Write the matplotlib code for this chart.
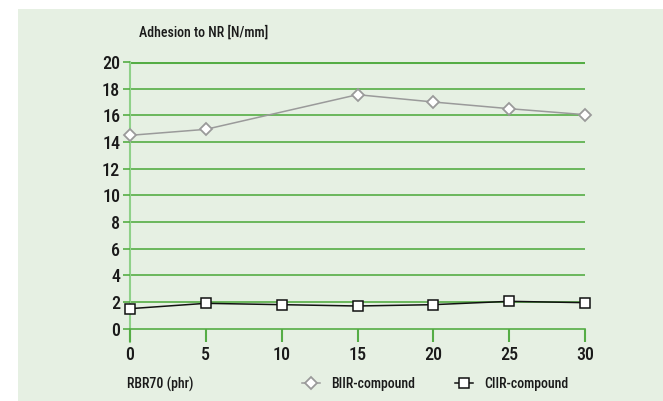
#!/usr/bin/env python3
"""Adhesion to NR vs RBR70 loading for BIIR and CIIR compounds."""

import matplotlib
matplotlib.use("Agg")
import matplotlib.pyplot as plt
from matplotlib.patches import Rectangle

# data
biir_x = [0, 5, 15, 20, 25, 30]
biir_y = [14.5, 14.95, 17.55, 17.0, 16.5, 16.05]
ciir_x = [0, 5, 10, 15, 20, 25, 30]
ciir_y = [1.5, 1.9, 1.8, 1.7, 1.8, 2.05, 1.95]
x_ticks = [0, 5, 10, 15, 20, 25, 30]
y_ticks = [0, 2, 4, 6, 8, 10, 12, 14, 16, 18, 20]

BG = "#e6f0e3"
GREEN = "#55ad45"
LIGHT_GREEN = "#8fd189"
FONT = ["Roboto Condensed", "DejaVu Sans"]
TXT = "#1a1a1a"

plt.rcParams["font.family"] = FONT

W, H = 663, 401
fig = plt.figure(figsize=(W / 100, H / 100), dpi=100)
fig.patch.set_facecolor("white")
# green panel, white strip on top and left
fig.patches.append(Rectangle((18 / W, 0), 1, (H - 9) / H, transform=fig.transFigure,
                             facecolor=BG, edgecolor="none", zorder=-5))

# axes: x 0..30 -> px 130..585 ; y 20 at px 62, 0 at px 329, -1 at px 342
y_px_per = (329 - 62) / 20
ax = fig.add_axes([130 / W, (H - 342) / H, 455 / W, (342 - 62) / H])
ax.set_facecolor("none")
ax.set_xlim(0, 30)
ax.set_ylim(-1, 20)

for v in y_ticks[1:]:
    ax.axhline(v, color=GREEN, lw=2.2 if v == 20 else 1.2, zorder=1)

for s in ["top", "right"]:
    ax.spines[s].set_visible(False)
ax.spines["bottom"].set_position(("data", 0))
ax.spines["bottom"].set_color(GREEN)
ax.spines["bottom"].set_linewidth(1.2)
ax.spines["left"].set_color(LIGHT_GREEN)
ax.spines["left"].set_linewidth(1.5)
ax.spines["left"].set_zorder(1)

ax.set_xticks(x_ticks)
ax.set_yticks(y_ticks)
ax.tick_params(axis="x", direction="out", length=y_px_per * 0.72, width=1.5,
               color=GREEN, pad=3, labelsize=13, labelcolor=TXT)
ax.tick_params(axis="y", direction="out", length=5, width=1.2,
               color=GREEN, pad=2, labelsize=13, labelcolor=TXT)
for lab in ax.get_xticklabels() + ax.get_yticklabels():
    lab.set_fontweight("medium")

ax.plot(biir_x, biir_y, color="#9a9a9a", lw=1.1, marker="D", markersize=6.5,
        markerfacecolor="white", markeredgecolor="#9a9a9a", markeredgewidth=1.3,
        label="BIIR-compound", zorder=3, clip_on=False)
ax.plot(ciir_x, ciir_y, color="#111111", lw=1.1, marker="s", markersize=7,
        markerfacecolor="white", markeredgecolor="#111111", markeredgewidth=1.1,
        label="CIIR-compound", zorder=3, clip_on=False)

fig.text(139 / W, 1 - 32 / H, "Adhesion to NR [N/mm]", fontsize=10,
         fontweight="medium", color=TXT, va="center", ha="left")
fig.text(127 / W, 1 - 384 / H, "RBR70 (phr)", fontsize=10,
         fontweight="medium", color=TXT, va="center", ha="left")

leg = fig.legend(loc="center left", bbox_to_anchor=(289 / W, 1 - 384 / H),
                 ncol=2, frameon=False, handlelength=1.3, handletextpad=0.8,
                 columnspacing=2.9, prop={"family": FONT, "size": 10,
                                          "weight": "medium"})
for t in leg.get_texts():
    t.set_color(TXT)

fig.savefig("out.png", dpi=100, facecolor=fig.get_facecolor())
